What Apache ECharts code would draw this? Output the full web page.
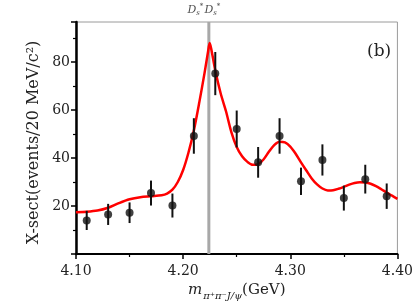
<!DOCTYPE html>
<html>
<head>
<meta charset="utf-8">
<script src="https://cdn.jsdelivr.net/npm/echarts@6/dist/echarts.min.js"></script>
<style>html,body{margin:0;padding:0;background:#fff}#c{width:416px;height:306px}</style>
</head>
<body>
<div id="c"></div>
<script>
// Data points (mass in GeV, events / 20 MeV, symmetric error)
var pointMass   = [4.11, 4.13, 4.15, 4.17, 4.19, 4.21, 4.23, 4.25, 4.27, 4.29, 4.31, 4.33, 4.35, 4.37, 4.39];
var pointValue  = [14.0, 16.5, 17.2, 25.4, 20.2, 49.2, 75.2, 52.1, 38.2, 49.2, 30.3, 39.2, 23.3, 31.2, 24.1];
var pointError  = [4.0, 4.4, 4.3, 5.2, 5.0, 7.4, 9.0, 7.7, 6.4, 7.4, 5.7, 6.5, 5.2, 6.0, 5.3];

// Fit curve
var curveMass = [4.100, 4.110, 4.120, 4.130, 4.140, 4.150, 4.160, 4.170, 4.180, 4.185, 4.190, 4.195, 4.200, 4.205, 4.210, 4.215, 4.220, 4.2232, 4.2248, 4.2262,
                 4.230, 4.235, 4.240, 4.245, 4.250, 4.255, 4.260, 4.265, 4.270, 4.275, 4.280, 4.285, 4.290, 4.295, 4.300, 4.305, 4.310,
                 4.315, 4.320, 4.325, 4.330, 4.335, 4.340, 4.345, 4.350, 4.355, 4.360, 4.365, 4.370, 4.375, 4.380, 4.385, 4.390, 4.395, 4.400];
var curveValue = [17.4, 17.6, 18.1, 19.3, 21.2, 22.8, 23.7, 24.1, 24.5, 25.2, 26.8, 30.0, 35.0, 42.3, 51.5, 63.0, 75.5, 84.2, 87.9, 85.6,
                  76.5, 67.0, 59.5, 50.8, 44.6, 40.7, 38.4, 37.2, 37.5, 39.4, 42.6, 45.4, 46.8, 46.5, 44.8, 41.8, 38.2,
                  34.8, 31.5, 29.0, 27.3, 26.5, 26.6, 27.2, 28.0, 28.9, 29.6, 29.9, 29.8, 29.3, 28.3, 27.0, 25.6, 24.3, 23.0];

// Threshold marker (2 x m(Ds*))
var thresholdMass = 4.224;

// Axis ranges and steps
var xMin = 4.10, xMax = 4.40, xStep = 0.10;
var yMin = 0, yMax = 96.7, yStep = 20;

var SERIF = '"DejaVu Serif", "Liberation Serif", serif';

var curveData = curveMass.map(function (m, i) { return [m, curveValue[i]]; });
var pointData = pointMass.map(function (m, i) { return [m, pointValue[i]]; });
var errData = pointMass.map(function (m, i) { return [m, pointValue[i] - pointError[i], pointValue[i] + pointError[i]]; });
var thresholdLine = [[thresholdMass, yMin], [thresholdMass, yMax]];

var chart = echarts.init(document.getElementById('c'), null, { renderer: 'canvas' });
chart.setOption({
  animation: false,
  backgroundColor: '#fff',
  title: {
    text: '(b)', left: 362, top: 38,
    textStyle: { fontFamily: SERIF, fontSize: 17, fontWeight: 'normal', color: '#222' }
  },
  grid: { left: 76, right: 16, top: 22, bottom: 51, show: true, borderColor: '#9a9a9a', borderWidth: 1 },
  xAxis: {
    type: 'value', min: xMin, max: xMax, interval: xStep,
    axisLine: { show: true, onZero: false, lineStyle: { color: '#000', width: 2 } },
    axisTick: { show: true, inside: false, length: 5, lineStyle: { color: '#000', width: 1.5 } },
    minorTick: { show: true, splitNumber: 2, length: 3, lineStyle: { color: '#000', width: 1.2 } },
    splitLine: { show: false },
    axisLabel: { fontFamily: SERIF, fontSize: 14, color: '#222', margin: 10, formatter: function (v) { return v.toFixed(2); } },
    name: '{m|m}{s|π⁺π⁻J/ψ}{r|(GeV)}',
    nameLocation: 'middle', nameGap: 25, nameMoveOverlap: false,
    nameTextStyle: {
      rich: {
        m: { fontFamily: SERIF, fontStyle: 'italic', fontSize: 15, color: '#222', lineHeight: 22, verticalAlign: 'middle' },
        s: { fontFamily: SERIF, fontStyle: 'italic', fontSize: 10, color: '#222', lineHeight: 22, verticalAlign: 'bottom', padding: [0, 0, 0, 1] },
        r: { fontFamily: SERIF, fontSize: 15, color: '#222', lineHeight: 22, verticalAlign: 'middle' }
      }
    }
  },
  yAxis: {
    type: 'value', min: yMin, max: yMax, interval: yStep,
    axisLine: { show: true, onZero: false, lineStyle: { color: '#000', width: 2.5 } },
    axisTick: { show: true, inside: false, length: 5, lineStyle: { color: '#000', width: 1.5 } },
    minorTick: { show: true, splitNumber: 2, length: 3, lineStyle: { color: '#000', width: 1.2 } },
    splitLine: { show: false },
    axisLabel: { fontFamily: SERIF, fontSize: 14, color: '#222', margin: 6, showMaxLabel: false,
      formatter: function (v) { return (v === 0 || v % 20 !== 0) ? '' : String(v); } },
    name: 'X-sect(events/20 MeV/c²)',
    nameLocation: 'middle', nameGap: 34, nameMoveOverlap: false,
    nameTextStyle: { fontFamily: SERIF, fontSize: 16, color: '#222', padding: [0, 9, 0, 0] }
  },
  series: [
    {
      type: 'line', data: thresholdLine, showSymbol: false, silent: true, z: 2,
      lineStyle: { color: '#a8a8a8', width: 3 }
    },
    {
      type: 'line', data: curveData, smooth: 0.3, showSymbol: false, silent: true, z: 3,
      lineStyle: { color: '#ff0000', width: 2.5 }
    },
    {
      type: 'custom', z: 4, silent: true,
      data: errData,
      encode: { x: 0, y: [1, 2] },
      renderItem: function (params, api) {
        var lo = api.coord([api.value(0), api.value(1)]);
        var hi = api.coord([api.value(0), api.value(2)]);
        return { type: 'line', shape: { x1: lo[0], y1: lo[1], x2: hi[0], y2: hi[1] }, style: { stroke: '#111', lineWidth: 2 } };
      }
    },
    {
      type: 'scatter', data: pointData, symbol: 'circle', symbolSize: 8, z: 5, silent: true,
      itemStyle: { color: '#111' }
    },
    {
      type: 'scatter', data: [[thresholdMass, yMax]], symbolSize: 0, silent: true, z: 6,
      label: {
        show: true, position: 'top', distance: 5, offset: [-5, 0],
        formatter: '{d|D}{b|s}{t|*}{g| }{d|D}{b|s}{t|*}',
        rich: {
          d: { fontFamily: SERIF, fontStyle: 'italic', fontSize: 11, color: '#222', lineHeight: 14, verticalAlign: 'middle' },
          b: { fontFamily: SERIF, fontStyle: 'italic', fontSize: 7, color: '#222', lineHeight: 14, verticalAlign: 'bottom' },
          t: { fontFamily: SERIF, fontSize: 7, color: '#222', lineHeight: 14, verticalAlign: 'top' },
          g: { fontSize: 4, lineHeight: 14 }
        }
      }
    }
  ]
});
</script>
</body>
</html>
